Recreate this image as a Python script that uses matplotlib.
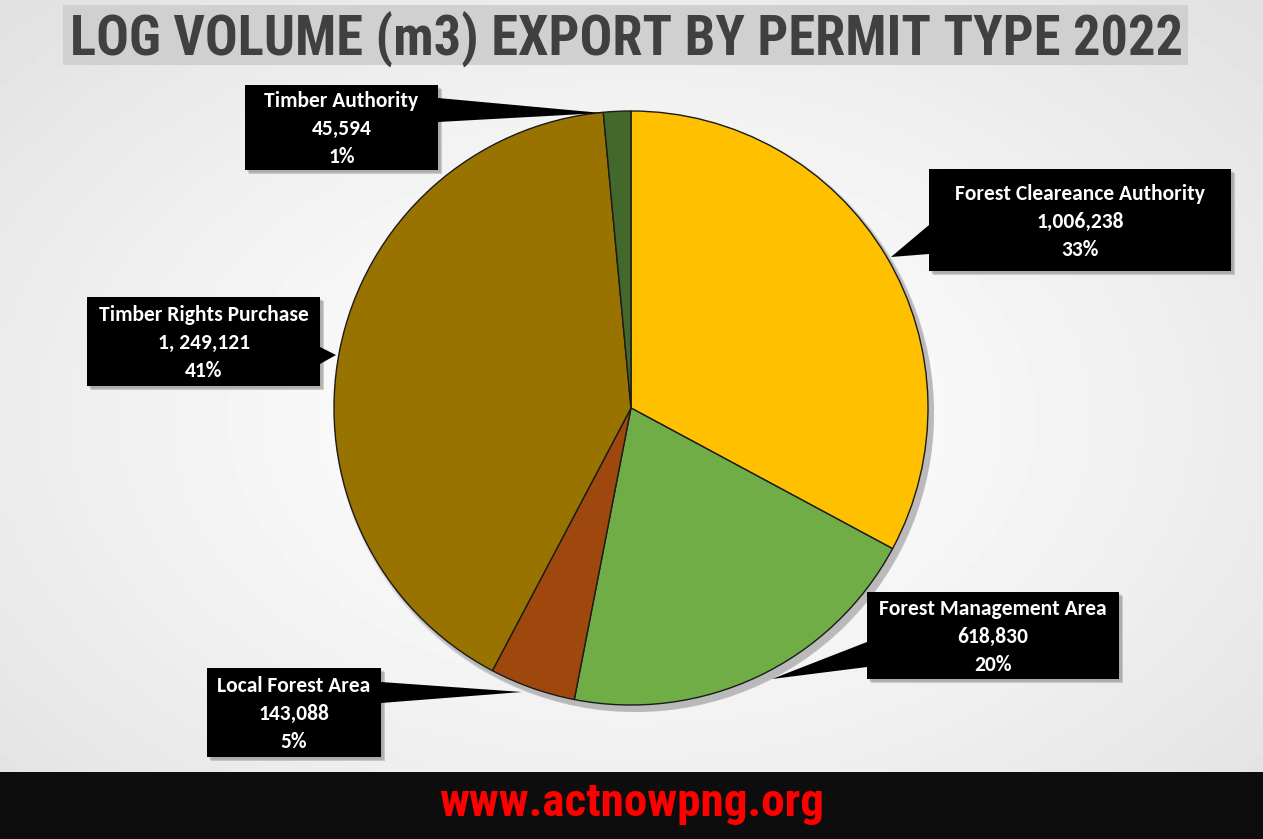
import numpy as np
import matplotlib
matplotlib.use("Agg")
import matplotlib.pyplot as plt
from matplotlib.patches import Rectangle, Polygon
from matplotlib import font_manager as fm

# ---- data ----
categories = ["Forest Cleareance Authority", "Forest Management Area",
              "Local Forest Area", "Timber Rights Purchase", "Timber Authority"]
values = [1006238, 618830, 143088, 1249121, 45594]
value_labels = ["1,006,238", "618,830", "143,088", "1, 249,121", "45,594"]
pct_labels = ["33%", "20%", "5%", "41%", "1%"]
colors = ["#FFC000", "#70AD47", "#9E480E", "#997300", "#43682B"]

title = "LOG VOLUME (m3) EXPORT BY PERMIT TYPE 2022"
footer = "www.actnowpng.org"

available = {f.name for f in fm.fontManager.ttflist}
def pick(names):
    for n in names:
        if n in available:
            return n
    return "DejaVu Sans"

narrow = pick(["Liberation Sans Narrow", "Roboto Condensed", "Open Sans Condensed",
               "DejaVu Sans Condensed", "Liberation Sans"])
label_font = pick(["Carlito", "Lato", "Open Sans"])

W, H = 1263, 839
fig = plt.figure(figsize=(W / 100, H / 100), dpi=100)
ax = fig.add_axes([0, 0, 1, 1])
ax.set_xlim(0, W)
ax.set_ylim(0, H)
ax.axis("off")

def Y(y):
    return H - y

# background radial gradient
gx, gy = np.meshgrid(np.linspace(-1, 1, 300), np.linspace(-1, 1, 200))
r = np.sqrt(gx ** 2 + gy ** 2) / np.sqrt(2)
bg = 1.0 - 0.12 * r ** 1.3
ax.imshow(bg, cmap="gray", vmin=0, vmax=1, extent=[0, W, 0, H], aspect="auto", zorder=0)

renderer = fig.canvas.get_renderer()

def fit_text(x, y, s, target_w, size0, **kw):
    t = ax.text(x, y, s, fontsize=size0, **kw)
    w = t.get_window_extent(renderer=renderer).width
    t.set_fontsize(size0 * target_w / w)
    return t

# title
ax.add_patch(Rectangle((63, Y(65)), 1125, 60, facecolor="#D0D0D0", edgecolor="none", zorder=1))
fit_text(626, Y(39), title, 1112, 30, ha="center", va="center", fontweight="bold",
         color="#404040", family=[narrow, "DejaVu Sans"], zorder=2)

# footer band
ax.add_patch(Rectangle((0, 0), W, Y(772), facecolor="#0D0D0D", edgecolor="none", zorder=1))
fit_text(632, Y(803), footer, 385, 27, ha="center", va="center", fontweight="bold",
         color="#FF0000", family=[narrow if narrow != "Liberation Sans" else "Open Sans",
                                  "DejaVu Sans"], zorder=2)

# pie shadow
cx, cy, rad = 631, Y(408), 297
for k, a in enumerate([0.25, 0.35, 0.5]):
    ax.add_patch(plt.Circle((cx + 3 + k, cy - 4 - k), rad + 3 - k, facecolor="#A8A8A8",
                            edgecolor="none", alpha=a, zorder=2))

wedges, _ = ax.pie(values, colors=colors, startangle=90, counterclock=False,
                   center=(cx, cy), radius=rad, frame=True,
                   wedgeprops=dict(edgecolor="#1a1a1a", linewidth=1.0))
for w in wedges:
    w.set_zorder(3)
ax.set_xlim(0, W)
ax.set_ylim(0, H)
ax.set_aspect("auto")
ax.axis("off")

# label boxes: (x0, y0, x1, y1) in pixel coords, pointer base (2 pts) and tip
boxes = [
    dict(box=(929, 169, 1231, 271), base=[(929, 225), (929, 254)], tip=(891, 257)),
    dict(box=(867, 592, 1119, 679), base=[(867, 642), (867, 667)], tip=(772, 679)),
    dict(box=(207, 668, 381, 757), base=[(381, 682), (381, 703)], tip=(522, 692)),
    dict(box=(87, 297, 320, 386), base=[(320, 347), (320, 364)], tip=(336, 355)),
    dict(box=(245, 85, 438, 170), base=[(438, 98), (438, 122)], tip=(602, 113)),
]

for i, b in enumerate(boxes):
    x0, y0, x1, y1 = b["box"]
    for k, a in enumerate([0.2, 0.3, 0.4]):
        ax.add_patch(Rectangle((x0 + 2 + k, Y(y1) - 2 - k), x1 - x0, y1 - y0,
                               facecolor="#8A8A8A", edgecolor="none", alpha=a, zorder=4))
    ax.add_patch(Rectangle((x0, Y(y1)), x1 - x0, y1 - y0, facecolor="black",
                           edgecolor="none", zorder=5))
    pts = [(p[0], Y(p[1])) for p in b["base"]] + [(b["tip"][0], Y(b["tip"][1]))]
    ax.add_patch(Polygon(pts, closed=True, facecolor="black", edgecolor="none", zorder=5))
    xc = (x0 + x1) / 2
    ymid = (y0 + y1) / 2 + 1.5
    lines = [categories[i], value_labels[i], pct_labels[i]]
    for k, t in enumerate(lines):
        yy = ymid + (k - 1) * 28
        ax.text(xc, Y(yy), t, ha="center", va="center", fontsize=15.5, fontweight="bold",
                color="white", family=[label_font, "DejaVu Sans"], zorder=6)

fig.savefig("out.png", dpi=100)
